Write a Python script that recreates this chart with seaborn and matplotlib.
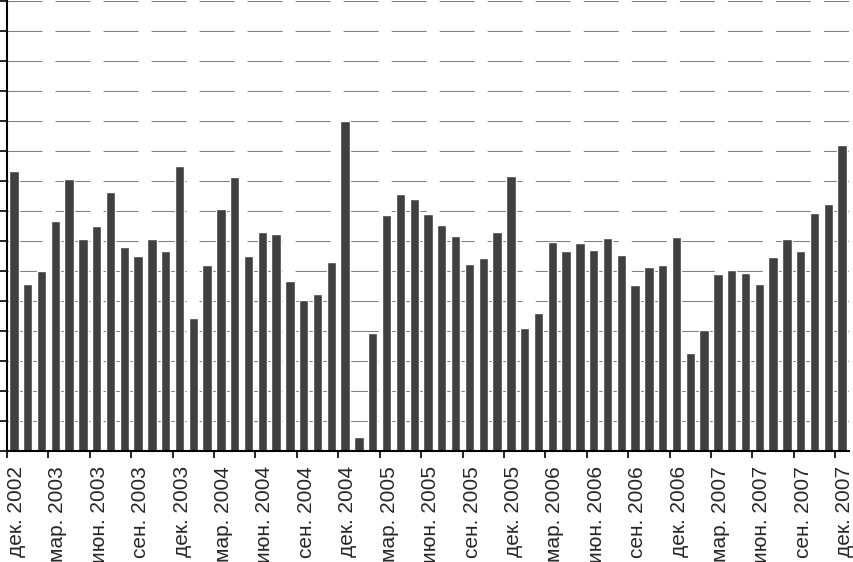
import matplotlib
matplotlib.use("Agg")
import matplotlib.pyplot as plt
import matplotlib.transforms as mtransforms
import numpy as np
import pandas as pd
import seaborn as sns

MONTHS_RU = ["янв.", "фев.", "мар.", "апр.", "май", "июн.", "июл.", "авг.", "сен.", "окт.", "ноя.", "дек."]

# monthly values, dec 2002 .. dec 2007 (arbitrary units)
values = [
    9.33,
    5.56, 6.00, 7.67, 9.07, 7.07, 7.51, 8.64, 6.81, 6.49, 7.06, 6.66, 9.50,
    4.43, 6.21, 8.06, 9.12, 6.51, 7.29, 7.23, 5.67, 5.02, 5.22, 6.30, 11.01,
    0.47, 3.93, 7.86, 8.57, 8.39, 7.90, 7.53, 7.18, 6.23, 6.43, 7.30, 9.17,
    4.10, 4.61, 6.97, 6.66, 6.93, 6.71, 7.11, 6.53, 5.53, 6.13, 6.19, 7.13,
    3.26, 4.03, 5.90, 6.02, 5.92, 5.56, 6.48, 7.06, 6.68, 7.92, 8.24, 10.20,
]
periods = pd.period_range("2002-12", "2007-12", freq="M")
months = [f"{MONTHS_RU[p.month - 1]} {p.year}" for p in periods]
df = pd.DataFrame({"month": months, "value": values})

sns.set_style("white")
plt.rcParams["font.family"] = ["Liberation Sans", "DejaVu Sans"]

fig = plt.figure(figsize=(8.54, 5.62), dpi=100)
ax = fig.add_axes([7 / 854, 1 - 451 / 562, 842 / 854, 450 / 562])

sns.barplot(data=df, x="month", y="value", color="#404040", saturation=1,
            width=0.68, ax=ax)

ax.set_xlim(-0.5, len(values) - 0.5)
ax.set_ylim(0, 15)
ax.set_yticks(np.arange(0, 16, 1))
ax.set_yticklabels([])

tick_idx = np.arange(0, len(values), 3)
ax.set_xticks(tick_idx - 0.5)
ax.set_xticklabels([months[i] for i in tick_idx], rotation=90, ha="left",
                   va="top", fontsize=15)
shift = mtransforms.ScaledTranslation(-2.5 / 100, 0, fig.dpi_scale_trans)
for lbl in ax.get_xticklabels():
    lbl.set_transform(lbl.get_transform() + shift)
ax.set_xlabel("")
ax.set_ylabel("")

ax.set_axisbelow(True)
ax.yaxis.grid(True, color="#808080", lw=0.75, ls=(0, (33.6, 12.5)))
ax.xaxis.grid(False)

for s in ("top", "right"):
    ax.spines[s].set_visible(False)
for s in ("left", "bottom"):
    ax.spines[s].set_color("black")
    ax.spines[s].set_linewidth(1.5)

ax.tick_params(axis="both", direction="out", length=5, width=1.2, color="black",
               left=True, bottom=True)
ax.tick_params(axis="x", pad=6)

fig.savefig("out.png", dpi=100)
